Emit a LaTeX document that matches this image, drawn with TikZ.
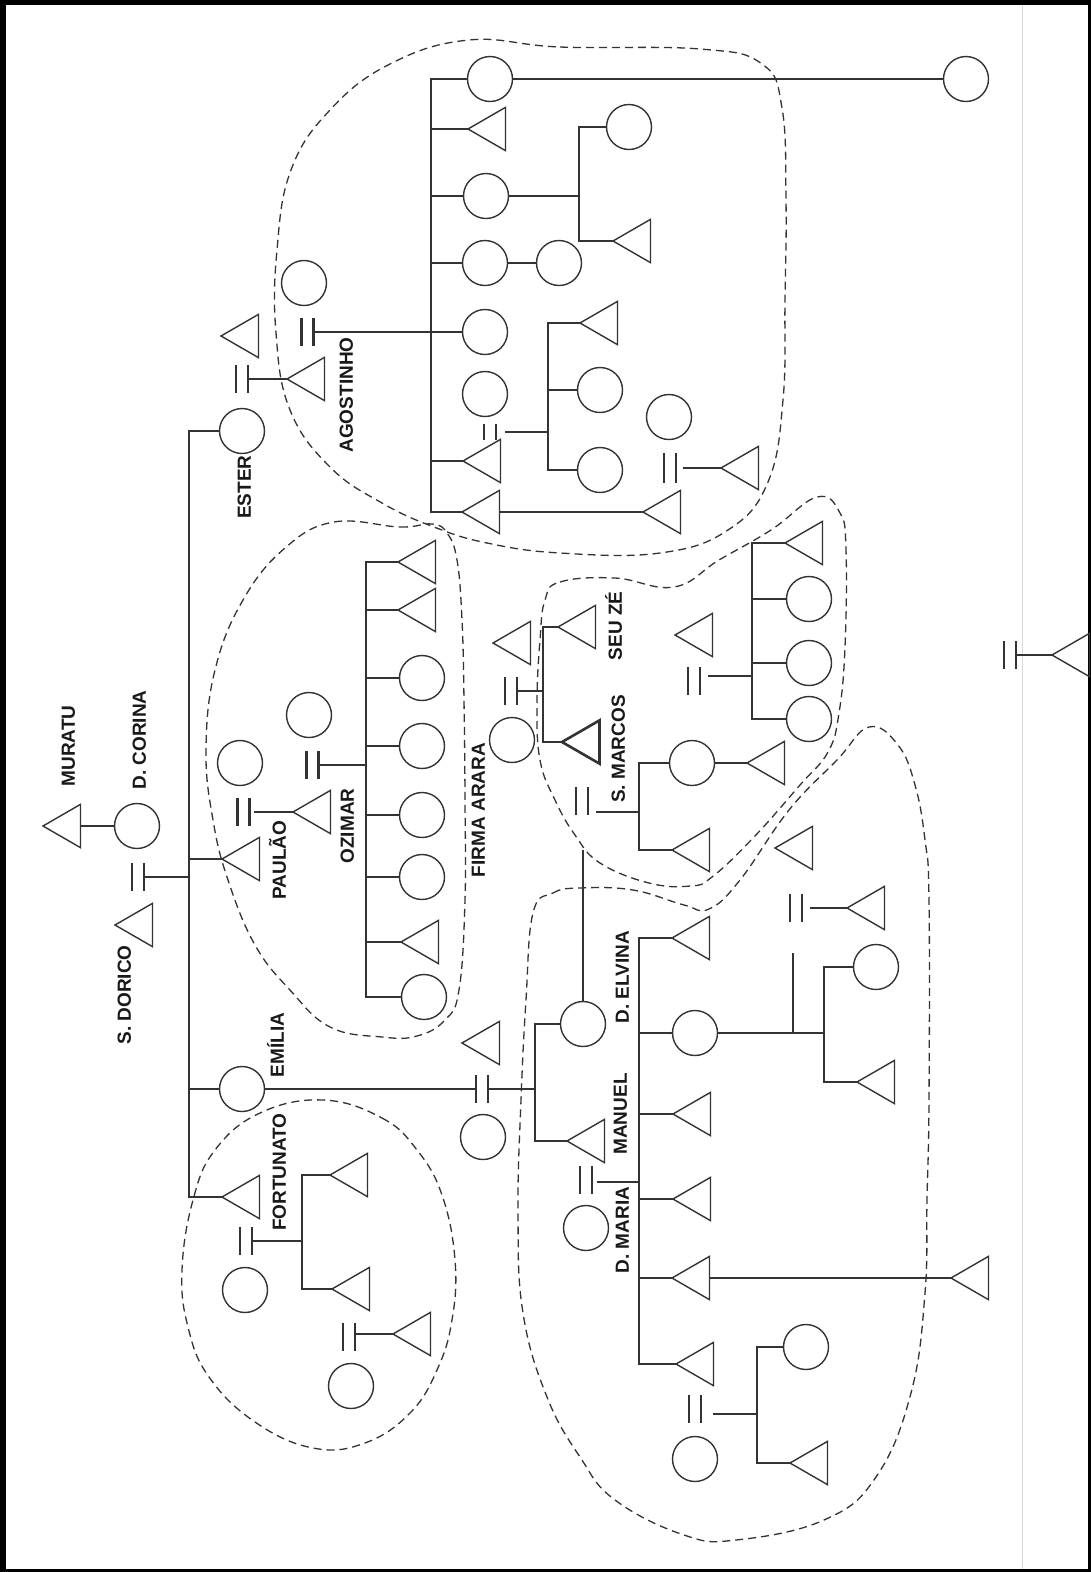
\documentclass[tikz,border=0pt]{standalone}
\usepackage{fontspec}
\setmainfont{Liberation Sans}
\usetikzlibrary{shapes.geometric}
\begin{document}
\begin{tikzpicture}[x=1pt,y=-1pt,line width=1.4pt,draw=black!80,
  fem/.style={circle,draw,minimum size=45pt,inner sep=0pt,outer sep=0pt},
  masc/.style={regular polygon,regular polygon sides=3,shape border rotate=90,draw,
    minimum size=50pt,inner sep=0pt,outer sep=0pt,anchor=west},
  marr/.style={minimum width=12pt,minimum height=28pt,inner sep=0pt,outer sep=0pt,
    append after command={(\tikzlastnode.north west) edge[line width=#1] (\tikzlastnode.south west)
      (\tikzlastnode.north east) edge[line width=#1] (\tikzlastnode.south east)}},
  marr/.default=1.5pt,
  lbl/.style={rotate=90,inner sep=0pt,text height=13.6pt,text depth=0pt,text=black!90,
    font=\bfseries\fontsize{19}{19}\selectfont},
  grupo/.style={dash pattern=on 8pt off 5pt,line width=1.3pt}]
\useasboundingbox (0,0) rectangle (1091,1572);
\fill (0,0) rectangle (1091,1572);
\fill[white] (6,5) rectangle (1088,1569);
\draw[black!15,line width=1pt] (1022,5) -- (1022,1569);

% grupos
\draw[grupo] plot[smooth cycle,tension=0.7] coordinates {(469,40) (560,47) (700,49) (762,64) (782,108) (786,200)
  (785,300) (783,400) (768,482) (728,530) (660,553) (560,553) (487,543) (434,527) (382,503) (330,467)
  (290,410) (276,333) (277,250) (291,170) (330,110) (390,64)};
\draw[grupo] plot[smooth cycle,tension=0.7] coordinates {(334,522) (400,527) (432,524) (447,533) (457,560)
  (462,620) (464,700) (465,800) (465,900) (459,990) (445,1020) (417,1036) (382,1037) (330,1027)
  (290,990) (255,945) (228,880) (213,820) (206,750) (215,670) (243,600) (285,548)};
\draw[grupo] plot[smooth cycle,tension=0.7] coordinates {(545,600) (560,582) (615,578) (674,587) (719,560)
  (771,530) (817,497) (840,513) (846,550) (845,647) (839,713) (828,752) (800,785) (754,837) (712,877)
  (690,886) (649,883) (600,863) (575,835) (555,800) (540,760) (537,703) (540,640)};
\draw[grupo] plot[smooth cycle,tension=0.7] coordinates {(533,913) (553,893) (580,888) (633,890) (684,905)
  (709,909) (740,880) (789,810) (837,760) (869,727) (898,745) (915,785) (925,840) (929,900) (929,1100)
  (927,1200) (925,1293) (911,1393) (876,1477) (824,1520) (736,1540) (684,1535) (615,1500) (580,1457)
  (547,1397) (523,1313) (518,1213) (521,1100) (526,1000)};
\draw[grupo] plot[smooth cycle,tension=0.7] coordinates {(323,1100) (382,1118) (417,1150) (442,1195)
  (455,1260) (452,1320) (437,1370) (410,1413) (365,1443) (313,1448) (255,1422) (209,1377) (188,1327)
  (182,1270) (193,1200) (215,1150) (260,1113)};

% S. Dorico e D. Corina
\node[masc] (muratu) at (43,826) {};
\node[fem] (corina) at (137,826) {};
\draw (muratu.east) -- (corina.west);
\node[marr] (mcorina) at (138,877) {};
\node[masc] (dorico) at (115,925) {};
\coordinate (sibdorico) at (189,877);
\draw (mcorina.east) -- (sibdorico);
\node[fem] (ester) at (242,431) {};
\node[masc] (paulao) at (222,859) {};
\node[fem] (emilia) at (242,1089) {};
\node[masc] (fortunato) at (222,1197) {};
\draw (ester.west) -| (sibdorico) |- (fortunato.west);
\foreach \n in {paulao,emilia} \draw (\n.west) -- (\n.west -| sibdorico);

% Ester e Agostinho
\node[masc] (esterm) at (221,336) {};
\node[marr] (mester) at (242,379) {};
\node[masc] (agost) at (287,379) {};
\draw (mester.east) -- (agost.west);
\node[fem] (agostw) at (304,283) {};
\node[marr=3pt] (magost) at (307,332) {};
\coordinate (sibagost) at (431,332);
\node[fem] (a1) at (490,79) {};
\node[masc] (a2) at (468,129) {};
\node[fem] (a3) at (486,196) {};
\node[fem] (a4) at (485,263) {};
\node[fem] (a5) at (485,332) {};
\node[masc] (a7) at (463,461) {};
\node[masc] (a8) at (462,512) {};
\draw (a1.west) -| (sibagost) |- (a8.west);
\foreach \n in {a2,a3,a4,a7} \draw (\n.west) -- (\n.west -| sibagost);
\draw (magost.east) -- (a5.west);
\node[fem] (a1far) at (966,79) {};
\draw (a1.east) -- (a1far.west);
\node[fem] (a31) at (629,127) {};
\node[masc] (a32) at (613,241) {};
\coordinate (siba3) at (579,196);
\draw (a31.west) -| (siba3) |- (a32.west);
\draw (a3.east) -- (siba3);
\node[fem] (a41) at (559,263) {};
\draw (a4.east) -- (a41.west);
\node[fem] (a6) at (485,394) {};
\node[marr,minimum height=16pt] (ma6) at (490,432) {};
\coordinate (siba6) at (548,432);
\node[masc] (a61) at (580,323) {};
\node[fem] (a62) at (600,390) {};
\node[fem] (a63) at (600,470) {};
\draw (a61.west) -| (siba6) |- (a63.west);
\draw (a62.west) -- (a62.west -| siba6);
\draw ([xshift=9pt]ma6.east) -- (siba6);
\node[masc] (a81) at (643,512) {};
\draw (a8.east) -- (a81.west);
\node[fem] (a82) at (669,417) {};
\node[marr,minimum height=30pt] (ma82) at (670,468) {};
\node[masc] (a83) at (721,468) {};
\draw ([xshift=7pt]ma82.east) -- (a83.west);

% Paulao e Ozimar
\node[fem] (paulaow) at (240,763) {};
\node[marr=3pt] (mpaulao) at (243,812) {};
\node[masc] (ozimar) at (293,812) {};
\draw ([xshift=5pt]mpaulao.east) -- (ozimar.west);
\node[fem] (ozimarw) at (309,715) {};
\node[marr=3pt] (mozimar) at (312,765) {};
\coordinate (sibozimar) at (366,765);
\draw (mozimar.east) -- (sibozimar);
\node[masc] (oz1) at (398,562) {};
\node[masc] (oz2) at (398,610) {};
\node[fem] (oz3) at (422,678) {};
\node[fem] (oz4) at (422,746) {};
\node[fem] (oz5) at (422,815) {};
\node[fem] (oz6) at (422,877) {};
\node[masc] (oz7) at (401,942) {};
\node[fem] (oz8) at (424,997) {};
\draw (oz1.west) -| (sibozimar) |- (oz8.west);
\foreach \n in {oz2,oz3,oz4,oz5,oz6,oz7} \draw (\n.west) -- (\n.west -| sibozimar);

% Emilia
\node[marr] (memilia) at (482,1089) {};
\node[masc] (emiliah) at (462,1043) {};
\node[fem] (emiliac) at (483,1137) {};
\draw (emilia.east) -- (memilia.west);
\coordinate (sibmanuel) at (535,1089);
\draw (memilia.east) -- (sibmanuel);
\node[fem] (elvina) at (583,1024) {};
\node[masc] (manuel) at (567,1141) {};
\draw (elvina.west) -| (sibmanuel) |- (manuel.west);

% Firma Arara
\node[fem] (arara) at (512,740) {};
\node[marr] (marara) at (511,691) {};
\node[masc] (araram) at (493,643) {};
\coordinate (sibarara) at (543,691);
\draw (marara.east) -- (sibarara);
\node[masc] (seuze) at (558,627) {};
\node[masc,line width=2.6pt] (marcos) at (562,742) {};
\draw (seuze.west) -| (sibarara) |- (marcos.west);
\node[marr] (mmarcos) at (582,801) {};
\coordinate (elvtop) at (583,850);
\draw (elvina.north) -- (elvtop);
\coordinate (sibmarcos) at (639,812);
\draw ([xshift=8pt]mmarcos.east |- sibmarcos) -- (sibmarcos);
\node[fem] (mk1) at (692,763) {};
\node[masc] (mk2) at (672,850) {};
\draw (mk1.west) -| (sibmarcos) |- (mk2.west);
\node[masc] (mk11) at (747,763) {};
\draw (mk1.east) -- (mk11.west);
\node[masc] (sz0) at (675,635) {};
\node[marr] (msz) at (694,681) {};
\coordinate (sibsz) at (752,676);
\draw ([xshift=8pt]msz.east |- sibsz) -- (sibsz);
\node[masc] (sz1) at (785,543) {};
\node[fem] (sz2) at (809,599) {};
\node[fem] (sz3) at (809,663) {};
\node[fem] (sz4) at (809,719) {};
\draw (sz1.west) -| (sibsz) |- (sz4.west);
\foreach \n in {sz2,sz3} \draw (\n.west) -- (\n.west -| sibsz);
\node[marr] (mfar) at (1010,655) {};
\node[masc] (far) at (1052,655) {};
\draw (mfar.east) -- (far.west);

% Manuel e D. Maria
\node[fem] (maria) at (586,1228) {};
\node[marr] (mmanuel) at (586,1180) {};
\coordinate (sibmaria) at (639,1182);
\draw ([xshift=5pt]mmanuel.east |- sibmaria) -- (sibmaria);
\node[masc] (mn1) at (672,938) {};
\node[fem] (mn2) at (695,1033) {};
\node[masc] (mn3) at (673,1114) {};
\node[masc] (mn4) at (673,1199) {};
\node[masc] (mn5) at (672,1278) {};
\node[masc] (mn6) at (676,1364) {};
\draw (mn1.west) -| (sibmaria) |- (mn6.west);
\foreach \n in {mn2,mn3,mn4,mn5} \draw (\n.west) -- (\n.west -| sibmaria);
\node[masc] (mn51) at (951,1278) {};
\draw (mn5.east) -- (mn51.west);
\coordinate (sibmn2) at (824,1033);
\draw (mn2.east) -- (sibmn2);
\node[fem] (mn21) at (876,967) {};
\node[masc] (mn22) at (857,1082) {};
\draw (mn21.west) -| (sibmn2) |- (mn22.west);
\node[marr] (mmn2) at (796,908) {};
\node[masc] (mn2h) at (847,908) {};
\draw ([xshift=8pt]mmn2.east) -- (mn2h.west);
\coordinate (mmn2low) at (793,953);
\draw (mmn2low) -- (mmn2low |- sibmn2);
\node[masc] (solo) at (775,848) {};
\node[marr] (mmn6) at (695,1409) {};
\node[fem] (mn6w) at (695,1459) {};
\coordinate (sibmn6) at (757,1414);
\draw ([xshift=12pt]mmn6.east |- sibmn6) -- (sibmn6);
\node[fem] (mn61) at (806,1347) {};
\node[masc] (mn62) at (790,1463) {};
\draw (mn61.west) -| (sibmn6) |- (mn62.west);

% Fortunato
\node[marr] (mfort) at (246,1241) {};
\node[fem] (fortw) at (245,1290) {};
\coordinate (sibfort) at (302,1241);
\draw (mfort.east) -- (sibfort);
\node[masc] (ft1) at (330,1175) {};
\node[masc] (ft2) at (332,1289) {};
\draw (ft1.west) -| (sibfort) |- (ft2.west);
\node[marr] (mft2) at (349,1337) {};
\node[fem] (ft2w) at (351,1386) {};
\node[masc] (ft21) at (393,1334) {};
\draw (mft2.east |- ft21.west) -- (ft21.west);

% nomes
\node[lbl] (lmuratu) at (68,746) {MURATU};
\node[lbl] (lcorina) at (139,740) {D. CORINA};
\node[lbl] (ldorico) at (124,995) {S. DORICO};
\node[lbl] (lester) at (244,487) {ESTER};
\node[lbl] (lagost) at (346,395) {AGOSTINHO};
\node[lbl] (lpaulao) at (279,860) {PAULÃO};
\node[lbl] (lozimar) at (347,826) {OZIMAR};
\node[lbl] (larara) at (478,810) {FIRMA ARARA};
\node[lbl] (lseuze) at (615,626) {SEU ZÉ};
\node[lbl] (lmarcos) at (618,749) {S. MARCOS};
\node[lbl] (lemilia) at (277,1045) {EMÍLIA};
\node[lbl] (lfort) at (279,1172) {FORTUNATO};
\node[lbl] (lelvina) at (622,977) {D. ELVINA};
\node[lbl] (lmanuel) at (620,1114) {MANUEL};
\node[lbl] (lmaria) at (622,1230) {D. MARIA};
\end{tikzpicture}
\end{document}
